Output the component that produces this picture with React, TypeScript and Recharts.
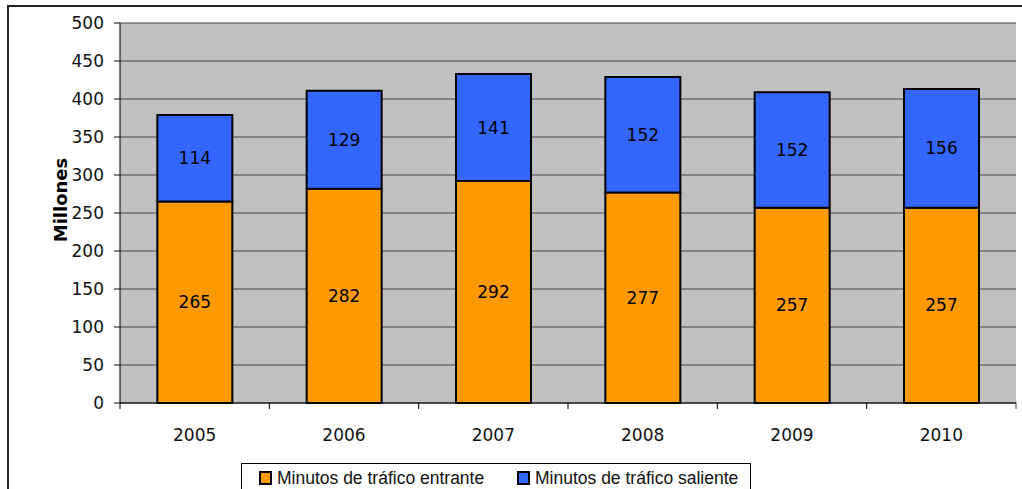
import React from "react";
import { BarChart, Bar, XAxis, YAxis, CartesianGrid, LabelList } from "recharts";

const years = ["2005", "2006", "2007", "2008", "2009", "2010"];
const entrante = [265, 282, 292, 277, 257, 257];
const saliente = [114, 129, 141, 152, 152, 156];
const yTicks = [0, 50, 100, 150, 200, 250, 300, 350, 400, 450, 500];

const seriesIn = "Minutos de tráfico entrante";
const seriesOut = "Minutos de tráfico saliente";

const data = years.map((y, i) => ({ year: y, entrante: entrante[i], saliente: saliente[i] }));

const W = 1022;
const H = 489;
const margin = { top: 23, right: 6, left: 0, bottom: 0 };
const yAxisWidth = 120;
const numFont = "'DejaVu Sans', Verdana, sans-serif";
const legendFont = "'Liberation Sans', Arial, sans-serif";
const bandWidth = (W - margin.right - yAxisWidth) / years.length;

function XTick(props: any) {
  const { x, y, payload, index } = props;
  const last = index === years.length - 1;
  return (
    <g>
      <line x1={x - bandWidth / 2} x2={x - bandWidth / 2} y1={y} y2={y + 6} stroke="#000" />
      {last && <line x1={x + bandWidth / 2} x2={x + bandWidth / 2} y1={y - 1} y2={y + 6} stroke="#444" />}
      <text x={x} y={y + 38} textAnchor="middle" fontSize={17} fill="#111" fontFamily={numFont}>
        {payload.value}
      </text>
    </g>
  );
}

function Swatch({ color }: { color: string }) {
  return (
    <span
      style={{
        display: "inline-block",
        width: 9,
        height: 10,
        background: color,
        border: "2px solid #000",
        marginRight: 5,
        verticalAlign: "-1px",
      }}
    />
  );
}

export default function App() {
  return (
    <div style={{ position: "fixed", left: 0, top: 0, width: W, height: H, overflow: "hidden", background: "#fff" }}>
      <div
        style={{
          position: "absolute",
          left: 7,
          top: 5,
          width: 1100,
          height: 600,
          border: "2px solid #222",
        }}
      />
      <div style={{ position: "absolute", left: 0, top: 0 }}>
        <BarChart width={W} height={H} data={data} margin={margin} barCategoryGap="25%">
          <CartesianGrid fill="#C0C0C0" stroke="#444" vertical={false} />
          <XAxis
            dataKey="year"
            height={86}
            tickSize={0}
            tickMargin={0}
            tickLine={false}
            axisLine={{ stroke: "#000" }}
            tick={<XTick />}
            interval={0}
          />
          <YAxis
            width={yAxisWidth}
            domain={[0, 500]}
            ticks={yTicks}
            interval={0}
            tickLine={{ stroke: "#000" }}
            axisLine={{ stroke: "#000" }}
            tickMargin={10}
            tick={{ fontSize: 17, fill: "#111", fontFamily: numFont }}
            label={{
              content: () => (
                <text
                  transform="translate(67,200) rotate(-90)"
                  textAnchor="middle"
                  fontSize={18}
                  fontWeight="bold"
                  fill="#000"
                  fontFamily={numFont}
                >
                  Millones
                </text>
              ),
            }}
          />
          <YAxis yAxisId="right" orientation="right" width={0} tick={false} tickLine={false} axisLine={{ stroke: "#444" }} />
          <Bar dataKey="entrante" stackId="a" fill="#FF9900" stroke="#000" strokeWidth={2} isAnimationActive={false} name={seriesIn}>
            <LabelList dataKey="entrante" position="center" fill="#000" fontSize={17} fontFamily={numFont} />
          </Bar>
          <Bar dataKey="saliente" stackId="a" fill="#3366FF" stroke="#000" strokeWidth={2} isAnimationActive={false} name={seriesOut}>
            <LabelList dataKey="saliente" position="center" fill="#000" fontSize={17} fontFamily={numFont} />
          </Bar>
        </BarChart>
      </div>
      <div
        style={{
          position: "absolute",
          left: 241,
          top: 463,
          width: 510,
          height: 40,
          border: "1px solid #000",
          boxSizing: "border-box",
          fontFamily: legendFont,
          fontSize: 17.5,
          color: "#111",
          paddingTop: 4,
          whiteSpace: "nowrap",
        }}
      >
        <span style={{ position: "absolute", left: 17 }}>
          <Swatch color="#FF9900" />
          {seriesIn}
        </span>
        <span style={{ position: "absolute", left: 275 }}>
          <Swatch color="#3366FF" />
          {seriesOut}
        </span>
      </div>
    </div>
  );
}
